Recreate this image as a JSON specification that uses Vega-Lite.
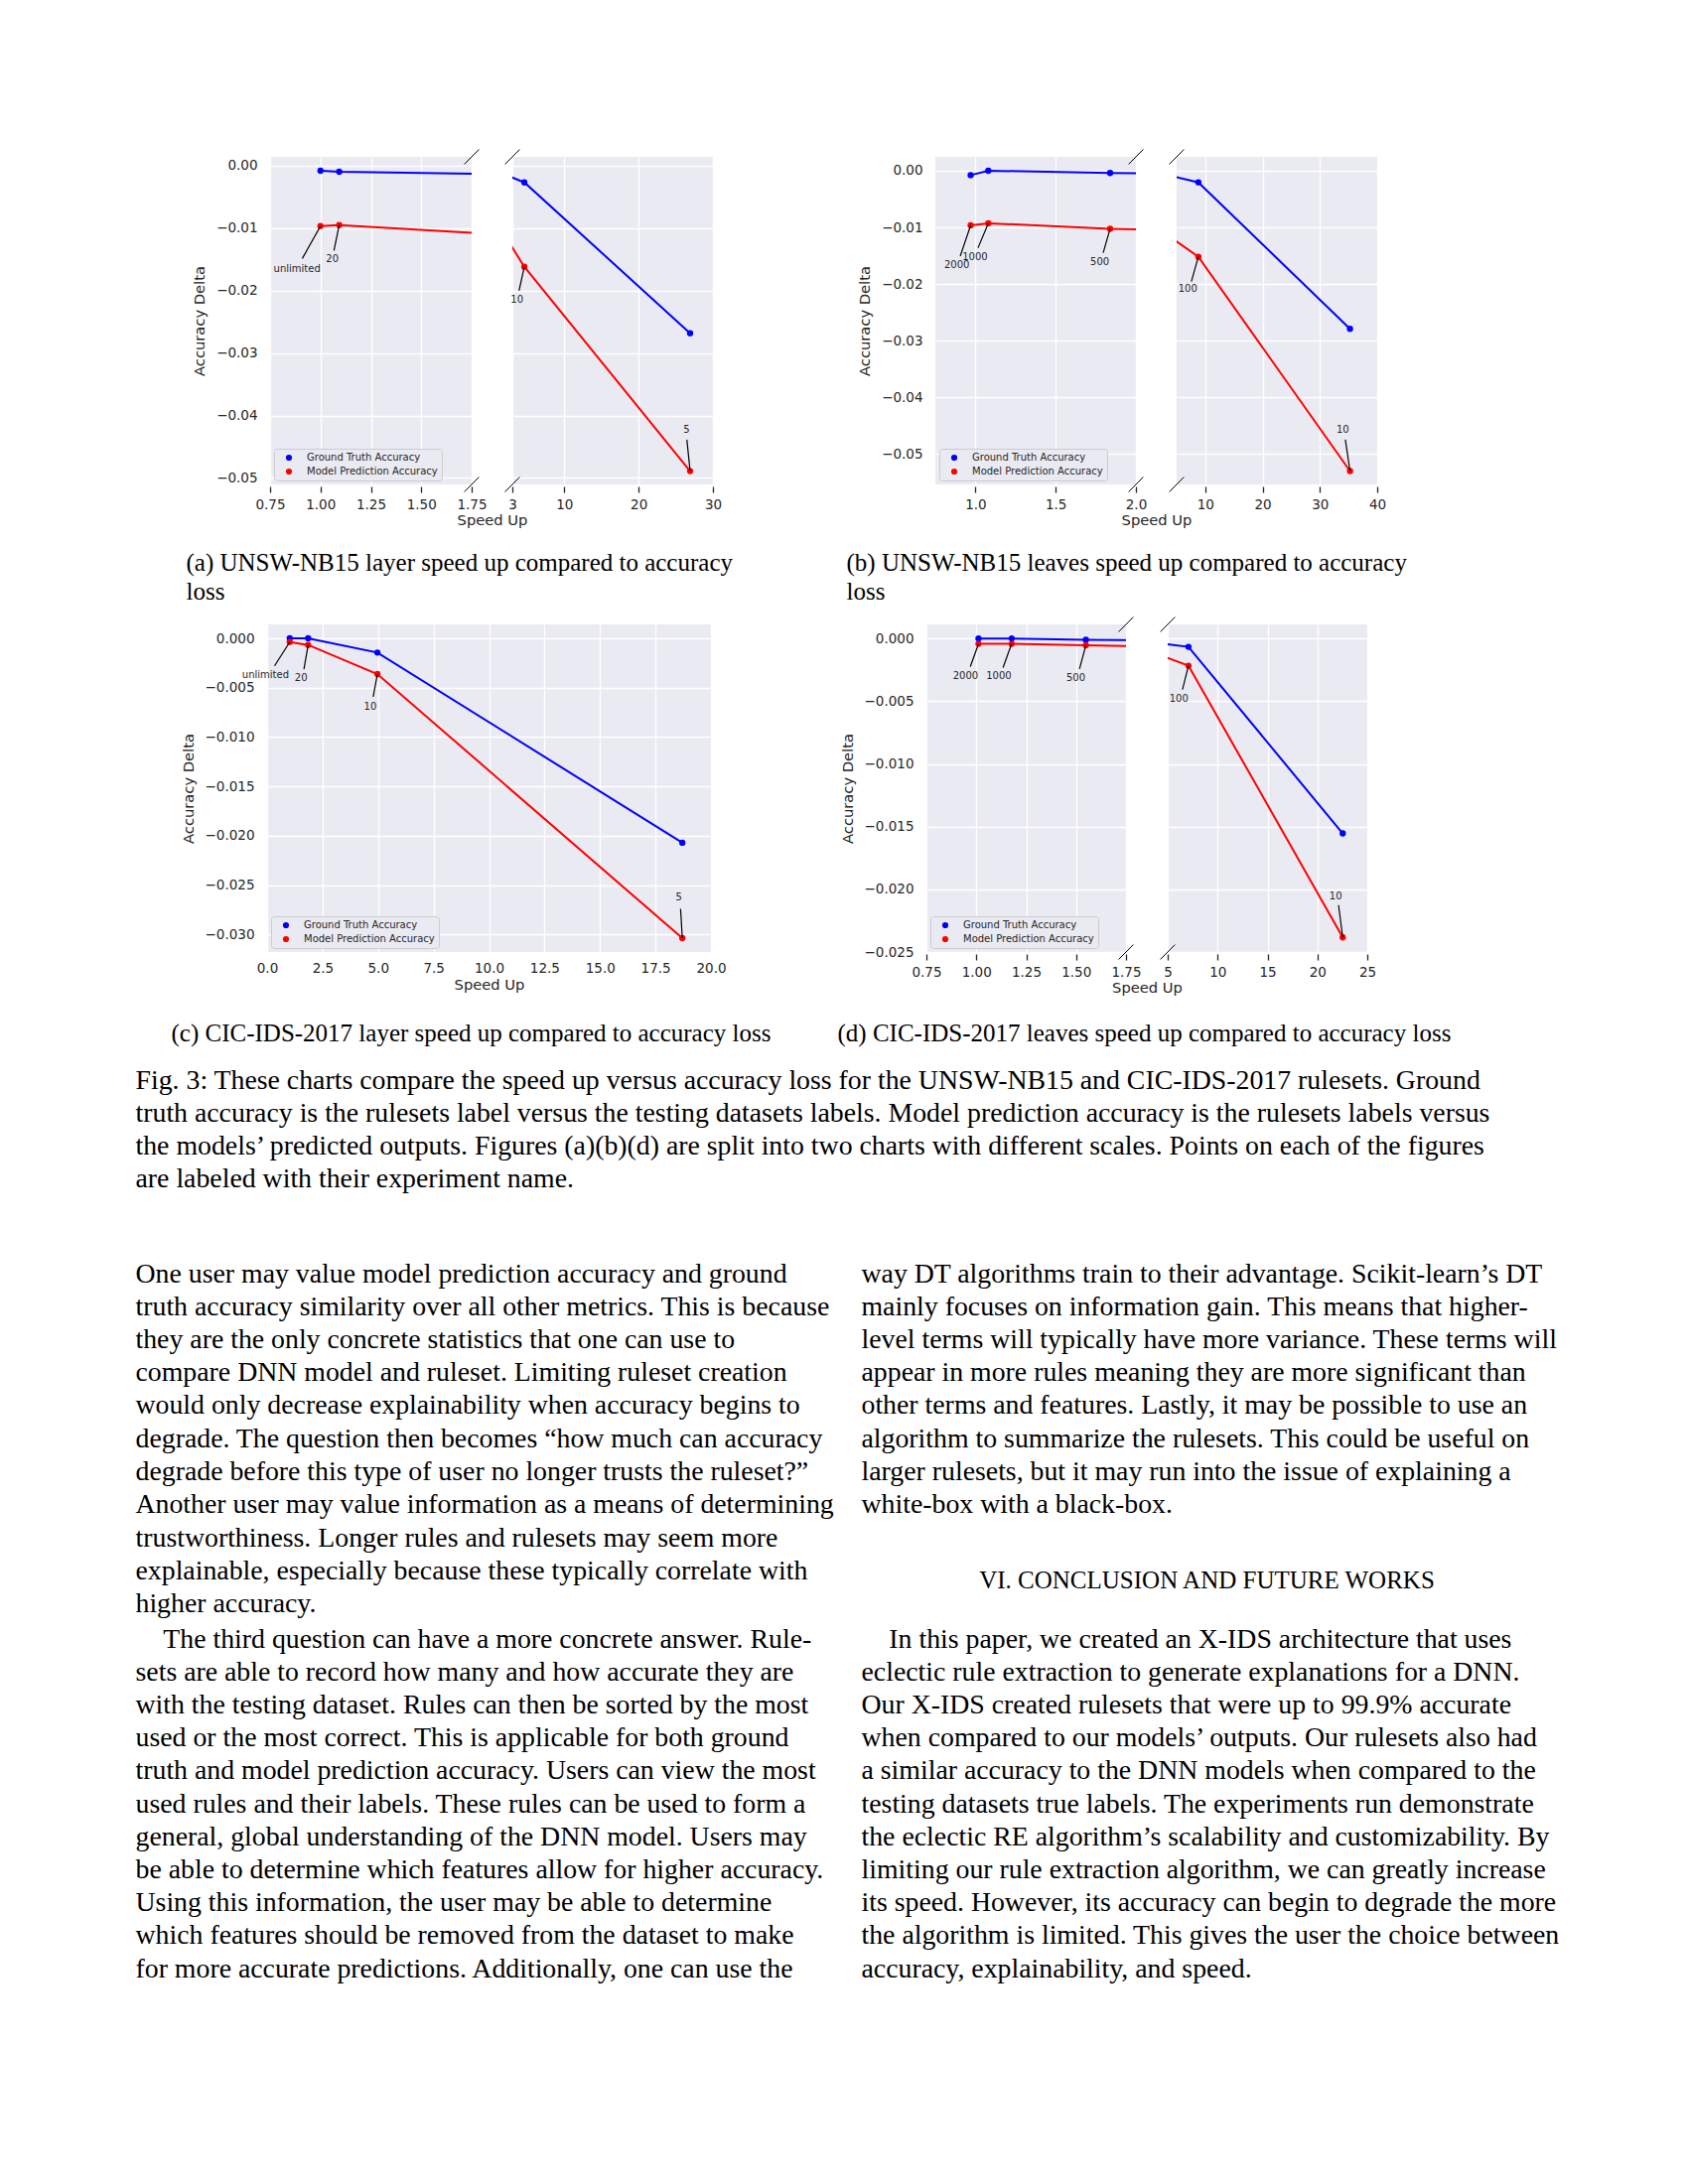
{
"$schema":"https://vega.github.io/schema/vega-lite/v6.json",
"background":"#ffffff",
"padding":{"left":136,"top":150,"right":10,"bottom":10},
"config":{
 "view":{"stroke":null},
 "axis":{"domain":false,"grid":true,"gridColor":"#ffffff","gridWidth":1.3,"labelColor":"#262626","labelFont":"DejaVu Sans","labelFontSize":13.5,"titleColor":"#262626","titleFont":"DejaVu Sans","titleFontSize":14.7,"titleFontWeight":"normal","labelFlush":false,"labelOverlap":false,"tickColor":"#262626"},
 "axisX":{"ticks":true,"tickSize":6,"tickWidth":1.3,"labelPadding":5.5},
 "axisY":{"ticks":false,"labelPadding":13,"titlePadding":9},
 "legend":{"labelFont":"DejaVu Sans","labelFontSize":10,"labelColor":"#262626","symbolType":"circle","symbolSize":38,"symbolStrokeWidth":0,"fillColor":"#eaeaf2","strokeColor":"#cccccc","padding":4,"cornerRadius":3,"offset":4,"labelOffset":13,"rowPadding":4,"symbolOffset":6}
},
"datasets":{
 "a":[
  {"series":"Ground Truth Accuracy","speedup":1.0,"delta":-0.0008},
  {"series":"Ground Truth Accuracy","speedup":1.093,"delta":-0.00095},
  {"series":"Ground Truth Accuracy","speedup":4.61,"delta":-0.00266},
  {"series":"Ground Truth Accuracy","speedup":26.93,"delta":-0.02682},
  {"series":"Model Prediction Accuracy","speedup":1.0,"delta":-0.00965},
  {"series":"Model Prediction Accuracy","speedup":1.093,"delta":-0.0095},
  {"series":"Model Prediction Accuracy","speedup":4.61,"delta":-0.01617},
  {"series":"Model Prediction Accuracy","speedup":26.93,"delta":-0.04892}
 ],
 "a_lab":[
  {"label":"unlimited","px":1.0,"py":-0.00965,"ax":0.91,"ay":-0.01485,"tx":0.884,"ty":-0.01649},
  {"label":"20","px":1.093,"py":-0.0095,"ax":1.067,"ay":-0.01358,"tx":1.059,"ty":-0.015},
  {"label":"10","px":4.61,"py":-0.01617,"ax":3.9,"ay":-0.02003,"tx":3.63,"ty":-0.02153},
  {"label":"5","px":26.93,"py":-0.04892,"ax":26.49,"ay":-0.04388,"tx":26.45,"ty":-0.04229}
 ],
 "b":[
  {"series":"Ground Truth Accuracy","speedup":0.97,"delta":-0.00077},
  {"series":"Ground Truth Accuracy","speedup":1.08,"delta":0.0},
  {"series":"Ground Truth Accuracy","speedup":1.839,"delta":-0.0004},
  {"series":"Ground Truth Accuracy","speedup":8.79,"delta":-0.00205},
  {"series":"Ground Truth Accuracy","speedup":35.25,"delta":-0.0279},
  {"series":"Model Prediction Accuracy","speedup":0.97,"delta":-0.00963},
  {"series":"Model Prediction Accuracy","speedup":1.08,"delta":-0.00928},
  {"series":"Model Prediction Accuracy","speedup":1.839,"delta":-0.01023},
  {"series":"Model Prediction Accuracy","speedup":8.79,"delta":-0.01518},
  {"series":"Model Prediction Accuracy","speedup":35.25,"delta":-0.053}
 ],
 "b_lab":[
  {"label":"2000","px":0.97,"py":-0.00963,"ax":0.905,"ay":-0.01506,"tx":0.884,"ty":-0.0167},
  {"label":"1000","px":1.08,"py":-0.00928,"ax":1.016,"ay":-0.0136,"tx":0.997,"ty":-0.01524},
  {"label":"500","px":1.839,"py":-0.01023,"ax":1.796,"ay":-0.01448,"tx":1.775,"ty":-0.01606},
  {"label":"100","px":8.79,"py":-0.01518,"ax":7.57,"ay":-0.01956,"tx":6.95,"ty":-0.0209},
  {"label":"10","px":35.25,"py":-0.053,"ax":34.44,"ay":-0.04746,"tx":33.99,"ty":-0.0457}
 ],
 "c":[
  {"series":"Ground Truth Accuracy","speedup":1.02,"delta":0.0},
  {"series":"Ground Truth Accuracy","speedup":1.85,"delta":0.0},
  {"series":"Ground Truth Accuracy","speedup":4.97,"delta":-0.00144},
  {"series":"Ground Truth Accuracy","speedup":18.71,"delta":-0.02071},
  {"series":"Model Prediction Accuracy","speedup":1.02,"delta":-0.00037},
  {"series":"Model Prediction Accuracy","speedup":1.85,"delta":-0.00067},
  {"series":"Model Prediction Accuracy","speedup":4.97,"delta":-0.00362},
  {"series":"Model Prediction Accuracy","speedup":18.71,"delta":-0.03037}
 ],
 "c_lab":[
  {"label":"unlimited","px":1.02,"py":-0.00037,"ax":0.335,"ay":-0.00279,"tx":-0.07,"ty":-0.00372},
  {"label":"20","px":1.85,"py":-0.00067,"ax":1.66,"ay":-0.00312,"tx":1.53,"ty":-0.00402},
  {"label":"10","px":4.97,"py":-0.00362,"ax":4.78,"ay":-0.00593,"tx":4.65,"ty":-0.00694},
  {"label":"5","px":18.71,"py":-0.03037,"ax":18.63,"ay":-0.0274,"tx":18.55,"ty":-0.02627}
 ],
 "d":[
  {"series":"Ground Truth Accuracy","speedup":1.011,"delta":0.0},
  {"series":"Ground Truth Accuracy","speedup":1.177,"delta":0.0},
  {"series":"Ground Truth Accuracy","speedup":1.549,"delta":-0.0001},
  {"series":"Ground Truth Accuracy","speedup":7.08,"delta":-0.00066},
  {"series":"Ground Truth Accuracy","speedup":22.54,"delta":-0.01554},
  {"series":"Model Prediction Accuracy","speedup":1.011,"delta":-0.00042},
  {"series":"Model Prediction Accuracy","speedup":1.177,"delta":-0.00042},
  {"series":"Model Prediction Accuracy","speedup":1.549,"delta":-0.00053},
  {"series":"Model Prediction Accuracy","speedup":7.08,"delta":-0.00216},
  {"series":"Model Prediction Accuracy","speedup":22.54,"delta":-0.02383}
 ],
 "d_lab":[
  {"label":"2000","px":1.011,"py":-0.00042,"ax":0.97,"ay":-0.00224,"tx":0.946,"ty":-0.00297},
  {"label":"1000","px":1.177,"py":-0.00042,"ax":1.134,"ay":-0.00231,"tx":1.113,"ty":-0.00297},
  {"label":"500","px":1.549,"py":-0.00053,"ax":1.517,"ay":-0.00242,"tx":1.499,"ty":-0.00315},
  {"label":"100","px":7.08,"py":-0.00216,"ax":6.48,"ay":-0.00407,"tx":6.12,"ty":-0.0048},
  {"label":"10","px":22.54,"py":-0.02383,"ax":22.12,"ay":-0.02126,"tx":21.83,"ty":-0.02055}
 ]
},
"spacing":0,
"resolve":{"scale":{"color":"independent"},"legend":{"color":"independent"}},
"vconcat":[
 {"spacing":0,"bounds":"flush","resolve":{"scale":{"color":"independent"},"legend":{"color":"independent"}},"hconcat":[
  {"width":136,"height":394.75,"data":{"values":[]},"mark":"point"},
  {"width":203,"height":330,"view":{"fill":"#eaeaf2","stroke":null},"layer":[
   {"data":{"name":"a"},"mark":{"type":"line","clip":true,"strokeWidth":2},"encoding":{
    "x":{"field":"speedup","type":"quantitative","scale":{"domain":[0.75,1.75],"nice":false,"zero":false},"axis":{"values":[0.75,1,1.25,1.5,1.75],"format":".2f","title":null,"offset":2}},
    "y":{"field":"delta","type":"quantitative","scale":{"domain":[-0.05105,0.00143],"nice":false,"zero":false},"axis":{"values":[0,-0.01,-0.02,-0.03,-0.04,-0.05],"format":".2f","title":"Accuracy Delta"}},
    "color":{"field":"series","type":"nominal","scale":{"domain":["Ground Truth Accuracy","Model Prediction Accuracy"],"range":["#0000ff","#ff0000"]},"legend":{"title":null,"orient":"bottom-left"}}}},
   {"data":{"name":"a"},"mark":{"type":"circle","clip":true,"size":40,"opacity":1},"encoding":{
    "x":{"field":"speedup","type":"quantitative","scale":{"domain":[0.75,1.75],"nice":false,"zero":false},"axis":{"values":[0.75,1,1.25,1.5,1.75],"format":".2f","title":null,"offset":2}},
    "y":{"field":"delta","type":"quantitative","scale":{"domain":[-0.05105,0.00143],"nice":false,"zero":false},"axis":{"values":[0,-0.01,-0.02,-0.03,-0.04,-0.05],"format":".2f","title":"Accuracy Delta"}},
    "color":{"field":"series","type":"nominal","scale":{"domain":["Ground Truth Accuracy","Model Prediction Accuracy"],"range":["#0000ff","#ff0000"]},"legend":{"title":null,"orient":"bottom-left"}}}},
   {"data":{"name":"a_lab"},"transform":[{"filter":{"field":"px","range":[0.75,1.75]}}],"mark":{"type":"rule","color":"#000000","strokeWidth":1.2},"encoding":{
    "x":{"field":"ax","type":"quantitative","scale":{"domain":[0.75,1.75],"nice":false,"zero":false},"axis":{"values":[0.75,1,1.25,1.5,1.75],"format":".2f","title":null,"offset":2}},
    "y":{"field":"ay","type":"quantitative","scale":{"domain":[-0.05105,0.00143],"nice":false,"zero":false},"axis":{"values":[0,-0.01,-0.02,-0.03,-0.04,-0.05],"format":".2f","title":"Accuracy Delta"}},
    "x2":{"field":"px"},"y2":{"field":"py"}}},
   {"data":{"name":"a_lab"},"transform":[{"filter":{"field":"px","range":[0.75,1.75]}}],"mark":{"type":"text","font":"DejaVu Sans","fontSize":10,"color":"#262626"},"encoding":{
    "x":{"field":"tx","type":"quantitative","scale":{"domain":[0.75,1.75],"nice":false,"zero":false},"axis":{"values":[0.75,1,1.25,1.5,1.75],"format":".2f","title":null,"offset":2}},
    "y":{"field":"ty","type":"quantitative","scale":{"domain":[-0.05105,0.00143],"nice":false,"zero":false},"axis":{"values":[0,-0.01,-0.02,-0.03,-0.04,-0.05],"format":".2f","title":"Accuracy Delta"}},
    "text":{"field":"label","type":"nominal"}}},
   {"data":{"values":[{"bx":1.7135,"bx2":1.7865,"by":0.00024,"by2":0.00262},{"bx":1.7135,"bx2":1.7865,"by":-0.05224,"by2":-0.04986}]},"mark":{"type":"rule","color":"#000000","strokeWidth":1},"encoding":{
    "x":{"field":"bx","type":"quantitative","scale":{"domain":[0.75,1.75],"nice":false,"zero":false},"axis":{"values":[0.75,1,1.25,1.5,1.75],"format":".2f","title":null,"offset":2}},
    "y":{"field":"by","type":"quantitative","scale":{"domain":[-0.05105,0.00143],"nice":false,"zero":false},"axis":{"values":[0,-0.01,-0.02,-0.03,-0.04,-0.05],"format":".2f","title":"Accuracy Delta"}},
    "x2":{"field":"bx2"},"y2":{"field":"by2"}}}
  ]},
  {"width":41,"height":330,"data":{"values":[]},"mark":"point","encoding":{"x":{"field":"v","type":"quantitative","scale":{"domain":[0,1]},"axis":{"title":"Speed Up","labels":false,"ticks":false,"grid":false,"domain":false,"titlePadding":28.5}}}},
  {"width":202,"height":330,"view":{"fill":"#eaeaf2","stroke":null},"layer":[
   {"data":{"name":"a"},"mark":{"type":"line","clip":true,"strokeWidth":2},"encoding":{
    "x":{"field":"speedup","type":"quantitative","scale":{"domain":[3,30],"nice":false,"zero":false},"axis":{"values":[3,10,20,30],"format":"d","title":null,"offset":2}},
    "y":{"field":"delta","type":"quantitative","scale":{"domain":[-0.05105,0.00143],"nice":false,"zero":false},"axis":{"values":[0,-0.01,-0.02,-0.03,-0.04,-0.05],"labels":false,"ticks":false,"title":null}},
    "color":{"field":"series","type":"nominal","scale":{"domain":["Ground Truth Accuracy","Model Prediction Accuracy"],"range":["#0000ff","#ff0000"]},"legend":null}}},
   {"data":{"name":"a"},"mark":{"type":"circle","clip":true,"size":40,"opacity":1},"encoding":{
    "x":{"field":"speedup","type":"quantitative","scale":{"domain":[3,30],"nice":false,"zero":false},"axis":{"values":[3,10,20,30],"format":"d","title":null,"offset":2}},
    "y":{"field":"delta","type":"quantitative","scale":{"domain":[-0.05105,0.00143],"nice":false,"zero":false},"axis":{"values":[0,-0.01,-0.02,-0.03,-0.04,-0.05],"labels":false,"ticks":false,"title":null}},
    "color":{"field":"series","type":"nominal","scale":{"domain":["Ground Truth Accuracy","Model Prediction Accuracy"],"range":["#0000ff","#ff0000"]},"legend":null}}},
   {"data":{"name":"a_lab"},"transform":[{"filter":{"field":"px","range":[3,30]}}],"mark":{"type":"rule","color":"#000000","strokeWidth":1.2},"encoding":{
    "x":{"field":"ax","type":"quantitative","scale":{"domain":[3,30],"nice":false,"zero":false},"axis":{"values":[3,10,20,30],"format":"d","title":null,"offset":2}},
    "y":{"field":"ay","type":"quantitative","scale":{"domain":[-0.05105,0.00143],"nice":false,"zero":false},"axis":{"values":[0,-0.01,-0.02,-0.03,-0.04,-0.05],"labels":false,"ticks":false,"title":null}},
    "x2":{"field":"px"},"y2":{"field":"py"}}},
   {"data":{"name":"a_lab"},"transform":[{"filter":{"field":"px","range":[3,30]}}],"mark":{"type":"text","font":"DejaVu Sans","fontSize":10,"color":"#262626"},"encoding":{
    "x":{"field":"tx","type":"quantitative","scale":{"domain":[3,30],"nice":false,"zero":false},"axis":{"values":[3,10,20,30],"format":"d","title":null,"offset":2}},
    "y":{"field":"ty","type":"quantitative","scale":{"domain":[-0.05105,0.00143],"nice":false,"zero":false},"axis":{"values":[0,-0.01,-0.02,-0.03,-0.04,-0.05],"labels":false,"ticks":false,"title":null}},
    "text":{"field":"label","type":"nominal"}}},
   {"data":{"values":[{"bx":2.011,"bx2":3.989,"by":0.00024,"by2":0.00262},{"bx":2.011,"bx2":3.989,"by":-0.05224,"by2":-0.04986}]},"mark":{"type":"rule","color":"#000000","strokeWidth":1},"encoding":{
    "x":{"field":"bx","type":"quantitative","scale":{"domain":[3,30],"nice":false,"zero":false},"axis":{"values":[3,10,20,30],"format":"d","title":null,"offset":2}},
    "y":{"field":"by","type":"quantitative","scale":{"domain":[-0.05105,0.00143],"nice":false,"zero":false},"axis":{"values":[0,-0.01,-0.02,-0.03,-0.04,-0.05],"labels":false,"ticks":false,"title":null}},
    "x2":{"field":"bx2"},"y2":{"field":"by2"}}}
  ]},
  {"width":224,"height":330,"data":{"values":[]},"mark":"point"},
  {"width":202,"height":330,"view":{"fill":"#eaeaf2","stroke":null},"layer":[
   {"data":{"name":"b"},"mark":{"type":"line","clip":true,"strokeWidth":2},"encoding":{
    "x":{"field":"speedup","type":"quantitative","scale":{"domain":[0.75,2.0],"nice":false,"zero":false},"axis":{"values":[1.0,1.5,2.0],"format":".1f","title":null,"offset":2}},
    "y":{"field":"delta","type":"quantitative","scale":{"domain":[-0.05536,0.00245],"nice":false,"zero":false},"axis":{"values":[0,-0.01,-0.02,-0.03,-0.04,-0.05],"format":".2f","title":"Accuracy Delta"}},
    "color":{"field":"series","type":"nominal","scale":{"domain":["Ground Truth Accuracy","Model Prediction Accuracy"],"range":["#0000ff","#ff0000"]},"legend":{"title":null,"orient":"bottom-left"}}}},
   {"data":{"name":"b"},"mark":{"type":"circle","clip":true,"size":40,"opacity":1},"encoding":{
    "x":{"field":"speedup","type":"quantitative","scale":{"domain":[0.75,2.0],"nice":false,"zero":false},"axis":{"values":[1.0,1.5,2.0],"format":".1f","title":null,"offset":2}},
    "y":{"field":"delta","type":"quantitative","scale":{"domain":[-0.05536,0.00245],"nice":false,"zero":false},"axis":{"values":[0,-0.01,-0.02,-0.03,-0.04,-0.05],"format":".2f","title":"Accuracy Delta"}},
    "color":{"field":"series","type":"nominal","scale":{"domain":["Ground Truth Accuracy","Model Prediction Accuracy"],"range":["#0000ff","#ff0000"]},"legend":{"title":null,"orient":"bottom-left"}}}},
   {"data":{"name":"b_lab"},"transform":[{"filter":{"field":"px","range":[0.75,2.0]}}],"mark":{"type":"rule","color":"#000000","strokeWidth":1.2},"encoding":{
    "x":{"field":"ax","type":"quantitative","scale":{"domain":[0.75,2.0],"nice":false,"zero":false},"axis":{"values":[1.0,1.5,2.0],"format":".1f","title":null,"offset":2}},
    "y":{"field":"ay","type":"quantitative","scale":{"domain":[-0.05536,0.00245],"nice":false,"zero":false},"axis":{"values":[0,-0.01,-0.02,-0.03,-0.04,-0.05],"format":".2f","title":"Accuracy Delta"}},
    "x2":{"field":"px"},"y2":{"field":"py"}}},
   {"data":{"name":"b_lab"},"transform":[{"filter":{"field":"px","range":[0.75,2.0]}}],"mark":{"type":"text","font":"DejaVu Sans","fontSize":10,"color":"#262626"},"encoding":{
    "x":{"field":"tx","type":"quantitative","scale":{"domain":[0.75,2.0],"nice":false,"zero":false},"axis":{"values":[1.0,1.5,2.0],"format":".1f","title":null,"offset":2}},
    "y":{"field":"ty","type":"quantitative","scale":{"domain":[-0.05536,0.00245],"nice":false,"zero":false},"axis":{"values":[0,-0.01,-0.02,-0.03,-0.04,-0.05],"format":".2f","title":"Accuracy Delta"}},
    "text":{"field":"label","type":"nominal"}}},
   {"data":{"values":[{"bx":1.9542,"bx2":2.0458,"by":0.00114,"by2":0.00376},{"bx":1.9542,"bx2":2.0458,"by":-0.05667,"by2":-0.05405}]},"mark":{"type":"rule","color":"#000000","strokeWidth":1},"encoding":{
    "x":{"field":"bx","type":"quantitative","scale":{"domain":[0.75,2.0],"nice":false,"zero":false},"axis":{"values":[1.0,1.5,2.0],"format":".1f","title":null,"offset":2}},
    "y":{"field":"by","type":"quantitative","scale":{"domain":[-0.05536,0.00245],"nice":false,"zero":false},"axis":{"values":[0,-0.01,-0.02,-0.03,-0.04,-0.05],"format":".2f","title":"Accuracy Delta"}},
    "x2":{"field":"bx2"},"y2":{"field":"by2"}}}
  ]},
  {"width":41,"height":330,"data":{"values":[]},"mark":"point","encoding":{"x":{"field":"v","type":"quantitative","scale":{"domain":[0,1]},"axis":{"title":"Speed Up","labels":false,"ticks":false,"grid":false,"domain":false,"titlePadding":28.5}}}},
  {"width":202,"height":330,"view":{"fill":"#eaeaf2","stroke":null},"layer":[
   {"data":{"name":"b"},"mark":{"type":"line","clip":true,"strokeWidth":2},"encoding":{
    "x":{"field":"speedup","type":"quantitative","scale":{"domain":[5,40],"nice":false,"zero":false},"axis":{"values":[10,20,30,40],"format":"d","title":null,"offset":2}},
    "y":{"field":"delta","type":"quantitative","scale":{"domain":[-0.05536,0.00245],"nice":false,"zero":false},"axis":{"values":[0,-0.01,-0.02,-0.03,-0.04,-0.05],"labels":false,"ticks":false,"title":null}},
    "color":{"field":"series","type":"nominal","scale":{"domain":["Ground Truth Accuracy","Model Prediction Accuracy"],"range":["#0000ff","#ff0000"]},"legend":null}}},
   {"data":{"name":"b"},"mark":{"type":"circle","clip":true,"size":40,"opacity":1},"encoding":{
    "x":{"field":"speedup","type":"quantitative","scale":{"domain":[5,40],"nice":false,"zero":false},"axis":{"values":[10,20,30,40],"format":"d","title":null,"offset":2}},
    "y":{"field":"delta","type":"quantitative","scale":{"domain":[-0.05536,0.00245],"nice":false,"zero":false},"axis":{"values":[0,-0.01,-0.02,-0.03,-0.04,-0.05],"labels":false,"ticks":false,"title":null}},
    "color":{"field":"series","type":"nominal","scale":{"domain":["Ground Truth Accuracy","Model Prediction Accuracy"],"range":["#0000ff","#ff0000"]},"legend":null}}},
   {"data":{"name":"b_lab"},"transform":[{"filter":{"field":"px","range":[5,40]}}],"mark":{"type":"rule","color":"#000000","strokeWidth":1.2},"encoding":{
    "x":{"field":"ax","type":"quantitative","scale":{"domain":[5,40],"nice":false,"zero":false},"axis":{"values":[10,20,30,40],"format":"d","title":null,"offset":2}},
    "y":{"field":"ay","type":"quantitative","scale":{"domain":[-0.05536,0.00245],"nice":false,"zero":false},"axis":{"values":[0,-0.01,-0.02,-0.03,-0.04,-0.05],"labels":false,"ticks":false,"title":null}},
    "x2":{"field":"px"},"y2":{"field":"py"}}},
   {"data":{"name":"b_lab"},"transform":[{"filter":{"field":"px","range":[5,40]}}],"mark":{"type":"text","font":"DejaVu Sans","fontSize":10,"color":"#262626"},"encoding":{
    "x":{"field":"tx","type":"quantitative","scale":{"domain":[5,40],"nice":false,"zero":false},"axis":{"values":[10,20,30,40],"format":"d","title":null,"offset":2}},
    "y":{"field":"ty","type":"quantitative","scale":{"domain":[-0.05536,0.00245],"nice":false,"zero":false},"axis":{"values":[0,-0.01,-0.02,-0.03,-0.04,-0.05],"labels":false,"ticks":false,"title":null}},
    "text":{"field":"label","type":"nominal"}}},
   {"data":{"values":[{"bx":3.718,"bx2":6.282,"by":0.00114,"by2":0.00376},{"bx":3.718,"bx2":6.282,"by":-0.05667,"by2":-0.05405}]},"mark":{"type":"rule","color":"#000000","strokeWidth":1},"encoding":{
    "x":{"field":"bx","type":"quantitative","scale":{"domain":[5,40],"nice":false,"zero":false},"axis":{"values":[10,20,30,40],"format":"d","title":null,"offset":2}},
    "y":{"field":"by","type":"quantitative","scale":{"domain":[-0.05536,0.00245],"nice":false,"zero":false},"axis":{"values":[0,-0.01,-0.02,-0.03,-0.04,-0.05],"labels":false,"ticks":false,"title":null}},
    "x2":{"field":"bx2"},"y2":{"field":"by2"}}}
  ]}
 ]},
 {"spacing":0,"bounds":"flush","hconcat":[
  {"width":50.6,"height":67.25,"data":{"values":[]},"mark":"point"},
  {"width":1,"height":67.25,"data":{"values":[{"line":0,"text":"(a) UNSW-NB15 layer speed up compared to accuracy"},{"line":1,"text":"loss"}]},
   "mark":{"type":"text","align":"left","baseline":"middle","font":"Liberation Serif","fontSize":25,"color":"#000000"},
   "encoding":{"y":{"field":"line","type":"quantitative","axis":null,"scale":{"domain":[-0.5,1.8596],"reverse":true,"nice":false,"zero":false}},"text":{"field":"text","type":"nominal"}}},
  {"width":664,"height":67.25,"data":{"values":[]},"mark":"point"},
  {"width":1,"height":67.25,"data":{"values":[{"line":0,"text":"(b) UNSW-NB15 leaves speed up compared to accuracy"},{"line":1,"text":"loss"}]},
   "mark":{"type":"text","align":"left","baseline":"middle","font":"Liberation Serif","fontSize":25,"color":"#000000"},
   "encoding":{"y":{"field":"line","type":"quantitative","axis":null,"scale":{"domain":[-0.5,1.8596],"reverse":true,"nice":false,"zero":false}},"text":{"field":"text","type":"nominal"}}}
 ]},
 {"spacing":0,"bounds":"flush","resolve":{"scale":{"color":"independent"},"legend":{"color":"independent"}},"hconcat":[
  {"width":133,"height":397.35,"data":{"values":[]},"mark":"point"},
  {"width":447,"height":330,"view":{"fill":"#eaeaf2","stroke":null},"layer":[
   {"data":{"name":"c"},"mark":{"type":"line","clip":true,"strokeWidth":2},"encoding":{
    "x":{"field":"speedup","type":"quantitative","scale":{"domain":[0,20],"nice":false,"zero":false},"axis":{"values":[0,2.5,5,7.5,10,12.5,15,17.5,20],"format":".1f","title":"Speed Up","ticks":false,"labelPadding":9,"titlePadding":3}},
    "y":{"field":"delta","type":"quantitative","scale":{"domain":[-0.03178,0.00141],"nice":false,"zero":false},"axis":{"values":[0,-0.005,-0.01,-0.015,-0.02,-0.025,-0.03],"format":".3f","title":"Accuracy Delta"}},
    "color":{"field":"series","type":"nominal","scale":{"domain":["Ground Truth Accuracy","Model Prediction Accuracy"],"range":["#0000ff","#ff0000"]},"legend":{"title":null,"orient":"bottom-left"}}}},
   {"data":{"name":"c"},"mark":{"type":"circle","clip":true,"size":40,"opacity":1},"encoding":{
    "x":{"field":"speedup","type":"quantitative","scale":{"domain":[0,20],"nice":false,"zero":false},"axis":{"values":[0,2.5,5,7.5,10,12.5,15,17.5,20],"format":".1f","title":"Speed Up","ticks":false,"labelPadding":9,"titlePadding":3}},
    "y":{"field":"delta","type":"quantitative","scale":{"domain":[-0.03178,0.00141],"nice":false,"zero":false},"axis":{"values":[0,-0.005,-0.01,-0.015,-0.02,-0.025,-0.03],"format":".3f","title":"Accuracy Delta"}},
    "color":{"field":"series","type":"nominal","scale":{"domain":["Ground Truth Accuracy","Model Prediction Accuracy"],"range":["#0000ff","#ff0000"]},"legend":{"title":null,"orient":"bottom-left"}}}},
   {"data":{"name":"c_lab"},"mark":{"type":"rule","color":"#000000","strokeWidth":1.2},"encoding":{
    "x":{"field":"ax","type":"quantitative","scale":{"domain":[0,20],"nice":false,"zero":false},"axis":{"values":[0,2.5,5,7.5,10,12.5,15,17.5,20],"format":".1f","title":"Speed Up","ticks":false,"labelPadding":9,"titlePadding":3}},
    "y":{"field":"ay","type":"quantitative","scale":{"domain":[-0.03178,0.00141],"nice":false,"zero":false},"axis":{"values":[0,-0.005,-0.01,-0.015,-0.02,-0.025,-0.03],"format":".3f","title":"Accuracy Delta"}},
    "x2":{"field":"px"},"y2":{"field":"py"}}},
   {"data":{"name":"c_lab"},"mark":{"type":"text","font":"DejaVu Sans","fontSize":10,"color":"#262626"},"encoding":{
    "x":{"field":"tx","type":"quantitative","scale":{"domain":[0,20],"nice":false,"zero":false},"axis":{"values":[0,2.5,5,7.5,10,12.5,15,17.5,20],"format":".1f","title":"Speed Up","ticks":false,"labelPadding":9,"titlePadding":3}},
    "y":{"field":"ty","type":"quantitative","scale":{"domain":[-0.03178,0.00141],"nice":false,"zero":false},"axis":{"values":[0,-0.005,-0.01,-0.015,-0.02,-0.025,-0.03],"format":".3f","title":"Accuracy Delta"}},
    "text":{"field":"label","type":"nominal"}}}
  ]},
  {"width":217,"height":330,"data":{"values":[]},"mark":"point"},
  {"width":201,"height":330,"view":{"fill":"#eaeaf2","stroke":null},"layer":[
   {"data":{"name":"d"},"mark":{"type":"line","clip":true,"strokeWidth":2},"encoding":{
    "x":{"field":"speedup","type":"quantitative","scale":{"domain":[0.75,1.75],"nice":false,"zero":false},"axis":{"values":[0.75,1,1.25,1.5,1.75],"format":".2f","title":null,"offset":2}},
    "y":{"field":"delta","type":"quantitative","scale":{"domain":[-0.025,0.00113],"nice":false,"zero":false},"axis":{"values":[0,-0.005,-0.01,-0.015,-0.02,-0.025],"format":".3f","title":"Accuracy Delta"}},
    "color":{"field":"series","type":"nominal","scale":{"domain":["Ground Truth Accuracy","Model Prediction Accuracy"],"range":["#0000ff","#ff0000"]},"legend":{"title":null,"orient":"bottom-left"}}}},
   {"data":{"name":"d"},"mark":{"type":"circle","clip":true,"size":40,"opacity":1},"encoding":{
    "x":{"field":"speedup","type":"quantitative","scale":{"domain":[0.75,1.75],"nice":false,"zero":false},"axis":{"values":[0.75,1,1.25,1.5,1.75],"format":".2f","title":null,"offset":2}},
    "y":{"field":"delta","type":"quantitative","scale":{"domain":[-0.025,0.00113],"nice":false,"zero":false},"axis":{"values":[0,-0.005,-0.01,-0.015,-0.02,-0.025],"format":".3f","title":"Accuracy Delta"}},
    "color":{"field":"series","type":"nominal","scale":{"domain":["Ground Truth Accuracy","Model Prediction Accuracy"],"range":["#0000ff","#ff0000"]},"legend":{"title":null,"orient":"bottom-left"}}}},
   {"data":{"name":"d_lab"},"transform":[{"filter":{"field":"px","range":[0.75,1.75]}}],"mark":{"type":"rule","color":"#000000","strokeWidth":1.2},"encoding":{
    "x":{"field":"ax","type":"quantitative","scale":{"domain":[0.75,1.75],"nice":false,"zero":false},"axis":{"values":[0.75,1,1.25,1.5,1.75],"format":".2f","title":null,"offset":2}},
    "y":{"field":"ay","type":"quantitative","scale":{"domain":[-0.025,0.00113],"nice":false,"zero":false},"axis":{"values":[0,-0.005,-0.01,-0.015,-0.02,-0.025],"format":".3f","title":"Accuracy Delta"}},
    "x2":{"field":"px"},"y2":{"field":"py"}}},
   {"data":{"name":"d_lab"},"transform":[{"filter":{"field":"px","range":[0.75,1.75]}}],"mark":{"type":"text","font":"DejaVu Sans","fontSize":10,"color":"#262626"},"encoding":{
    "x":{"field":"tx","type":"quantitative","scale":{"domain":[0.75,1.75],"nice":false,"zero":false},"axis":{"values":[0.75,1,1.25,1.5,1.75],"format":".2f","title":null,"offset":2}},
    "y":{"field":"ty","type":"quantitative","scale":{"domain":[-0.025,0.00113],"nice":false,"zero":false},"axis":{"values":[0,-0.005,-0.01,-0.015,-0.02,-0.025],"format":".3f","title":"Accuracy Delta"}},
    "text":{"field":"label","type":"nominal"}}},
   {"data":{"values":[{"bx":1.7132,"bx2":1.7868,"by":0.00054,"by2":0.00172},{"bx":1.7132,"bx2":1.7868,"by":-0.02559,"by2":-0.02441}]},"mark":{"type":"rule","color":"#000000","strokeWidth":1},"encoding":{
    "x":{"field":"bx","type":"quantitative","scale":{"domain":[0.75,1.75],"nice":false,"zero":false},"axis":{"values":[0.75,1,1.25,1.5,1.75],"format":".2f","title":null,"offset":2}},
    "y":{"field":"by","type":"quantitative","scale":{"domain":[-0.025,0.00113],"nice":false,"zero":false},"axis":{"values":[0,-0.005,-0.01,-0.015,-0.02,-0.025],"format":".3f","title":"Accuracy Delta"}},
    "x2":{"field":"bx2"},"y2":{"field":"by2"}}}
  ]},
  {"width":42,"height":330,"data":{"values":[]},"mark":"point","encoding":{"x":{"field":"v","type":"quantitative","scale":{"domain":[0,1]},"axis":{"title":"Speed Up","labels":false,"ticks":false,"grid":false,"domain":false,"titlePadding":28.5}}}},
  {"width":201,"height":330,"view":{"fill":"#eaeaf2","stroke":null},"layer":[
   {"data":{"name":"d"},"mark":{"type":"line","clip":true,"strokeWidth":2},"encoding":{
    "x":{"field":"speedup","type":"quantitative","scale":{"domain":[5,25],"nice":false,"zero":false},"axis":{"values":[5,10,15,20,25],"format":"d","title":null,"offset":2}},
    "y":{"field":"delta","type":"quantitative","scale":{"domain":[-0.025,0.00113],"nice":false,"zero":false},"axis":{"values":[0,-0.005,-0.01,-0.015,-0.02,-0.025],"labels":false,"ticks":false,"title":null}},
    "color":{"field":"series","type":"nominal","scale":{"domain":["Ground Truth Accuracy","Model Prediction Accuracy"],"range":["#0000ff","#ff0000"]},"legend":null}}},
   {"data":{"name":"d"},"mark":{"type":"circle","clip":true,"size":40,"opacity":1},"encoding":{
    "x":{"field":"speedup","type":"quantitative","scale":{"domain":[5,25],"nice":false,"zero":false},"axis":{"values":[5,10,15,20,25],"format":"d","title":null,"offset":2}},
    "y":{"field":"delta","type":"quantitative","scale":{"domain":[-0.025,0.00113],"nice":false,"zero":false},"axis":{"values":[0,-0.005,-0.01,-0.015,-0.02,-0.025],"labels":false,"ticks":false,"title":null}},
    "color":{"field":"series","type":"nominal","scale":{"domain":["Ground Truth Accuracy","Model Prediction Accuracy"],"range":["#0000ff","#ff0000"]},"legend":null}}},
   {"data":{"name":"d_lab"},"transform":[{"filter":{"field":"px","range":[5,25]}}],"mark":{"type":"rule","color":"#000000","strokeWidth":1.2},"encoding":{
    "x":{"field":"ax","type":"quantitative","scale":{"domain":[5,25],"nice":false,"zero":false},"axis":{"values":[5,10,15,20,25],"format":"d","title":null,"offset":2}},
    "y":{"field":"ay","type":"quantitative","scale":{"domain":[-0.025,0.00113],"nice":false,"zero":false},"axis":{"values":[0,-0.005,-0.01,-0.015,-0.02,-0.025],"labels":false,"ticks":false,"title":null}},
    "x2":{"field":"px"},"y2":{"field":"py"}}},
   {"data":{"name":"d_lab"},"transform":[{"filter":{"field":"px","range":[5,25]}}],"mark":{"type":"text","font":"DejaVu Sans","fontSize":10,"color":"#262626"},"encoding":{
    "x":{"field":"tx","type":"quantitative","scale":{"domain":[5,25],"nice":false,"zero":false},"axis":{"values":[5,10,15,20,25],"format":"d","title":null,"offset":2}},
    "y":{"field":"ty","type":"quantitative","scale":{"domain":[-0.025,0.00113],"nice":false,"zero":false},"axis":{"values":[0,-0.005,-0.01,-0.015,-0.02,-0.025],"labels":false,"ticks":false,"title":null}},
    "text":{"field":"label","type":"nominal"}}},
   {"data":{"values":[{"bx":4.264,"bx2":5.736,"by":0.00054,"by2":0.00172},{"bx":4.264,"bx2":5.736,"by":-0.02559,"by2":-0.02441}]},"mark":{"type":"rule","color":"#000000","strokeWidth":1},"encoding":{
    "x":{"field":"bx","type":"quantitative","scale":{"domain":[5,25],"nice":false,"zero":false},"axis":{"values":[5,10,15,20,25],"format":"d","title":null,"offset":2}},
    "y":{"field":"by","type":"quantitative","scale":{"domain":[-0.025,0.00113],"nice":false,"zero":false},"axis":{"values":[0,-0.005,-0.01,-0.015,-0.02,-0.025],"labels":false,"ticks":false,"title":null}},
    "x2":{"field":"bx2"},"y2":{"field":"by2"}}}
  ]}
 ]},
 {"spacing":0,"bounds":"flush","hconcat":[
  {"width":36,"height":45.55,"data":{"values":[]},"mark":"point"},
  {"width":1,"height":45.55,"data":{"values":[{"line":0,"text":"(c) CIC-IDS-2017 layer speed up compared to accuracy loss"}]},
   "mark":{"type":"text","align":"left","baseline":"middle","font":"Liberation Serif","fontSize":25,"color":"#000000"},
   "encoding":{"y":{"field":"line","type":"quantitative","axis":null,"scale":{"domain":[-0.5,1.098],"reverse":true,"nice":false,"zero":false}},"text":{"field":"text","type":"nominal"}}},
  {"width":670,"height":45.55,"data":{"values":[]},"mark":"point"},
  {"width":1,"height":45.55,"data":{"values":[{"line":0,"text":"(d) CIC-IDS-2017 leaves speed up compared to accuracy loss"}]},
   "mark":{"type":"text","align":"left","baseline":"middle","font":"Liberation Serif","fontSize":25,"color":"#000000"},
   "encoding":{"y":{"field":"line","type":"quantitative","axis":null,"scale":{"domain":[-0.5,1.098],"reverse":true,"nice":false,"zero":false}},"text":{"field":"text","type":"nominal"}}}
 ]},
 {"spacing":0,"bounds":"flush","hconcat":[
  {"width":1,"height":193.5,"data":{"values":[
    {"line":0,"text":"Fig. 3: These charts compare the speed up versus accuracy loss for the UNSW-NB15 and CIC-IDS-2017 rulesets. Ground"},
    {"line":1,"text":"truth accuracy is the rulesets label versus the testing datasets labels. Model prediction accuracy is the rulesets labels versus"},
    {"line":2,"text":"the models’ predicted outputs. Figures (a)(b)(d) are split into two charts with different scales. Points on each of the figures"},
    {"line":3,"text":"are labeled with their experiment name."}]},
   "mark":{"type":"text","align":"left","baseline":"middle","font":"Liberation Serif","fontSize":27.8,"color":"#000000"},
   "encoding":{"y":{"field":"line","type":"quantitative","axis":null,"scale":{"domain":[-0.5,5.3994],"reverse":true,"nice":false,"zero":false}},"text":{"field":"text","type":"nominal"}}}
 ]},
 {"spacing":0,"bounds":"flush","hconcat":[
  {"width":1,"height":265.6,"data":{"values":[
    {"line":0,"text":"One user may value model prediction accuracy and ground"},
    {"line":1,"text":"truth accuracy similarity over all other metrics. This is because"},
    {"line":2,"text":"they are the only concrete statistics that one can use to"},
    {"line":3,"text":"compare DNN model and ruleset. Limiting ruleset creation"},
    {"line":4,"text":"would only decrease explainability when accuracy begins to"},
    {"line":5,"text":"degrade. The question then becomes “how much can accuracy"},
    {"line":6,"text":"degrade before this type of user no longer trusts the ruleset?”"},
    {"line":7,"text":"Another user may value information as a means of determining"}]},
   "mark":{"type":"text","align":"left","baseline":"middle","font":"Liberation Serif","fontSize":27.8,"color":"#000000"},
   "encoding":{"y":{"field":"line","type":"quantitative","axis":null,"scale":{"domain":[-0.5,7.5],"reverse":true,"nice":false,"zero":false}},"text":{"field":"text","type":"nominal"}}},
  {"width":730,"height":265.6,"data":{"values":[]},"mark":"point"},
  {"width":1,"height":265.6,"data":{"values":[
    {"line":0,"text":"way DT algorithms train to their advantage. Scikit-learn’s DT"},
    {"line":1,"text":"mainly focuses on information gain. This means that higher-"},
    {"line":2,"text":"level terms will typically have more variance. These terms will"},
    {"line":3,"text":"appear in more rules meaning they are more significant than"},
    {"line":4,"text":"other terms and features. Lastly, it may be possible to use an"},
    {"line":5,"text":"algorithm to summarize the rulesets. This could be useful on"},
    {"line":6,"text":"larger rulesets, but it may run into the issue of explaining a"},
    {"line":7,"text":"white-box with a black-box."}]},
   "mark":{"type":"text","align":"left","baseline":"middle","font":"Liberation Serif","fontSize":27.8,"color":"#000000"},
   "encoding":{"y":{"field":"line","type":"quantitative","axis":null,"scale":{"domain":[-0.5,7.5],"reverse":true,"nice":false,"zero":false}},"text":{"field":"text","type":"nominal"}}}
 ]},
 {"spacing":0,"bounds":"flush","hconcat":[
  {"width":1,"height":102,"data":{"values":[
    {"line":0,"text":"trustworthiness. Longer rules and rulesets may seem more"},
    {"line":1,"text":"explainable, especially because these typically correlate with"},
    {"line":2,"text":"higher accuracy."}]},
   "mark":{"type":"text","align":"left","baseline":"middle","font":"Liberation Serif","fontSize":27.8,"color":"#000000"},
   "encoding":{"y":{"field":"line","type":"quantitative","axis":null,"scale":{"domain":[-0.5,2.5723],"reverse":true,"nice":false,"zero":false}},"text":{"field":"text","type":"nominal"}}},
  {"width":730,"height":102,"data":{"values":[]},"mark":"point"},
  {"width":697,"height":94,"data":{"values":[{"t":"VI.  CONCLUSION AND FUTURE WORKS"}]},
   "mark":{"type":"text","align":"center","baseline":"top","font":"Liberation Serif","fontSize":25,"color":"#000000"},
   "encoding":{"text":{"field":"t","type":"nominal"}}}
 ]},
 {"spacing":0,"bounds":"flush","hconcat":[
  {"width":1,"height":365.2,"data":{"values":[
    {"line":0,"text":"The third question can have a more concrete answer. Rule-"},
    {"line":1,"text":"sets are able to record how many and how accurate they are"},
    {"line":2,"text":"with the testing dataset. Rules can then be sorted by the most"},
    {"line":3,"text":"used or the most correct. This is applicable for both ground"},
    {"line":4,"text":"truth and model prediction accuracy. Users can view the most"},
    {"line":5,"text":"used rules and their labels. These rules can be used to form a"},
    {"line":6,"text":"general, global understanding of the DNN model. Users may"},
    {"line":7,"text":"be able to determine which features allow for higher accuracy."},
    {"line":8,"text":"Using this information, the user may be able to determine"},
    {"line":9,"text":"which features should be removed from the dataset to make"},
    {"line":10,"text":"for more accurate predictions. Additionally, one can use the"}]},
   "encoding":{"y":{"field":"line","type":"quantitative","axis":null,"scale":{"domain":[-0.5,10.5],"reverse":true,"nice":false,"zero":false}},"text":{"field":"text","type":"nominal"}},
   "layer":[
    {"transform":[{"filter":"datum.line > 0"}],"mark":{"type":"text","align":"left","baseline":"middle","font":"Liberation Serif","fontSize":27.8,"color":"#000000"}},
    {"transform":[{"filter":"datum.line == 0"}],"mark":{"type":"text","align":"left","baseline":"middle","font":"Liberation Serif","fontSize":27.8,"color":"#000000","dx":27.8}}
   ]},
  {"width":730,"height":365.2,"data":{"values":[]},"mark":"point"},
  {"width":1,"height":365.2,"data":{"values":[
    {"line":0,"text":"In this paper, we created an X-IDS architecture that uses"},
    {"line":1,"text":"eclectic rule extraction to generate explanations for a DNN."},
    {"line":2,"text":"Our X-IDS created rulesets that were up to 99.9% accurate"},
    {"line":3,"text":"when compared to our models’ outputs. Our rulesets also had"},
    {"line":4,"text":"a similar accuracy to the DNN models when compared to the"},
    {"line":5,"text":"testing datasets true labels. The experiments run demonstrate"},
    {"line":6,"text":"the eclectic RE algorithm’s scalability and customizability. By"},
    {"line":7,"text":"limiting our rule extraction algorithm, we can greatly increase"},
    {"line":8,"text":"its speed. However, its accuracy can begin to degrade the more"},
    {"line":9,"text":"the algorithm is limited. This gives the user the choice between"},
    {"line":10,"text":"accuracy, explainability, and speed."}]},
   "encoding":{"y":{"field":"line","type":"quantitative","axis":null,"scale":{"domain":[-0.5,10.5],"reverse":true,"nice":false,"zero":false}},"text":{"field":"text","type":"nominal"}},
   "layer":[
    {"transform":[{"filter":"datum.line > 0"}],"mark":{"type":"text","align":"left","baseline":"middle","font":"Liberation Serif","fontSize":27.8,"color":"#000000"}},
    {"transform":[{"filter":"datum.line == 0"}],"mark":{"type":"text","align":"left","baseline":"middle","font":"Liberation Serif","fontSize":27.8,"color":"#000000","dx":27.8}}
   ]}
 ]}
]
}
